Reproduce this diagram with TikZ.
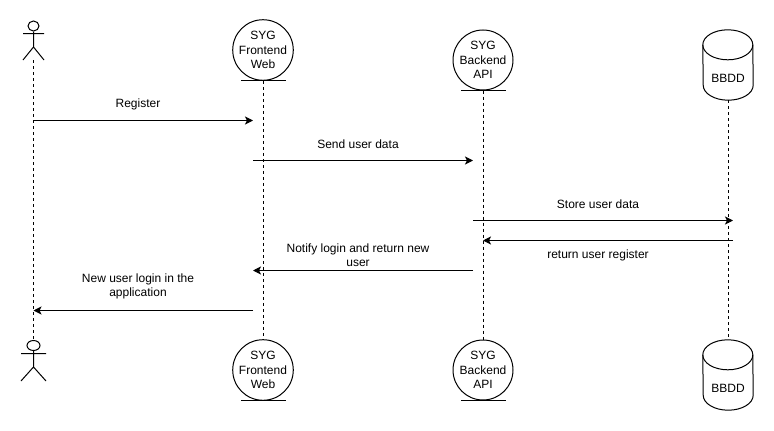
\documentclass[tikz,border=0pt]{standalone}
\usepackage{fontspec}
\setmainfont{Liberation Sans}
\usepackage{tikz}
\usetikzlibrary{positioning, arrows.meta, shapes.geometric}

\tikzset{
	lane/.style={circle, draw, line width=1pt, minimum size=60pt, inner sep=0pt, align=center},
	store/.style={rectangle, minimum width=50pt, minimum height=70pt, inner sep=0pt},
	head/.style={ellipse, draw, line width=1pt, inner sep=0pt},
	life/.style={line width=1pt, dash pattern=on 3pt off 3pt},
	msg/.style={-{Stealth[length=8pt, width=8pt, inset=2pt]}, line width=1pt},
	stick/.style={line width=1pt},
	txt/.style={align=center, inner sep=0pt}
}

% can outline round a store node
\newcommand{\dbcan}[1]{
	\draw[stick] ([yshift=-15pt]#1.north west)
		arc[start angle=180, end angle=0, x radius=25pt, y radius=15pt]
		-- ([yshift=15pt]#1.south east)
		arc[start angle=0, end angle=-180, x radius=25pt, y radius=15pt]
		-- cycle;
	\draw[stick] ([yshift=-15pt]#1.north west)
		arc[start angle=180, end angle=360, x radius=25pt, y radius=15pt];
}

\begin{document}
\begin{tikzpicture}[x=1pt, y=-1pt, every node/.style={font=\fontsize{12}{14.3}\selectfont}]
	\useasboundingbox (0,0) rectangle (774,431);

	% top row
	\node[head, minimum width=11pt, minimum height=10pt] (userTop) at (33.5,26) {};
	\node[lane] (webTop) at (263,50) {SYG\\Frontend\\Web};
	\node[lane] (apiTop) at (483,60) {SYG\\Backend\\API};
	\node[store] (dbTop) at (728,65) {};
	\node[txt] (dbTopName) at (728,78) {BBDD};
	\dbcan{dbTop}

	% bottom row
	\node[head, minimum width=13pt, minimum height=10pt] (userEnd) at (33.5,345.5) {};
	\node[lane] (webEnd) at (263,370) {SYG\\Frontend\\Web};
	\node[lane] (apiEnd) at (483,370) {SYG\\Backend\\API};
	\node[store] (dbEnd) at (728,375) {};
	\node[txt] (dbEndName) at (728,388) {BBDD};
	\dbcan{dbEnd}

	% stick figures
	\coordinate (userTopHip) at (33.5,47);
	\coordinate (userTopFoot) at (33.5,60);
	\draw[stick] (userTop.south) -- (userTopHip)
		(userTopHip) -- (23,60)
		(userTopHip) -- (44,60)
		(23,33.5) -- (44,33.5);
	\coordinate (userEndHip) at (33.5,367);
	\draw[stick] (userEnd.south) -- (userEndHip)
		(userEndHip) -- (21,381)
		(userEndHip) -- (46,381)
		(21,353.5) -- (46,353.5);

	% bars under the circles
	\draw[stick] (241,80) -- (286,80)
		(461,90) -- (506,90)
		(241,400) -- (286,400)
		(461,400) -- (506,400);

	% lifelines
	\draw[life] (userTopFoot) -- (userEnd.north);
	\draw[life] (webTop.south) -- (webEnd.north);
	\draw[life] (apiTop.south) -- (apiEnd.north);
	\draw[life] (dbTop.south) -- (dbEnd.north);

	% ends of the messages
	\coordinate (m1a) at (33.5,120.5);
	\coordinate (m1b) at (253,120.5);
	\coordinate (m2a) at (253,160.5);
	\coordinate (m2b) at (473,160.5);
	\coordinate (m3a) at (473,220.5);
	\coordinate (m3b) at (733,220.5);
	\coordinate (m4a) at (733,240.5);
	\coordinate (m4b) at (483,240.5);
	\coordinate (m5a) at (473,270.5);
	\coordinate (m5b) at (253,270.5);
	\coordinate (m6a) at (253,310.5);
	\coordinate (m6b) at (33.5,310.5);

	\draw[msg] (m1a) -- (m1b);
	\draw[msg] (m2a) -- (m2b);
	\draw[msg] (m3a) -- (m3b);
	\draw[msg] (m4a) -- (m4b);
	\draw[msg] (m5a) -- (m5b);
	\draw[msg] (m6a) -- (m6b);

	\node[txt] (register) at (138,104.7) {Register};
	\node[txt] (send) at (358,144.7) {Send user data};
	\node[txt] (keep) at (598,204.7) {Store user data};
	\node[txt] (back) at (598,255.5) {return user register};
	\node[txt] (notify) at (358,255.5) {Notify login and return new\\user};
	\node[txt] (login) at (138,286.5) {New user login in the\\application};
\end{tikzpicture}
\end{document}
